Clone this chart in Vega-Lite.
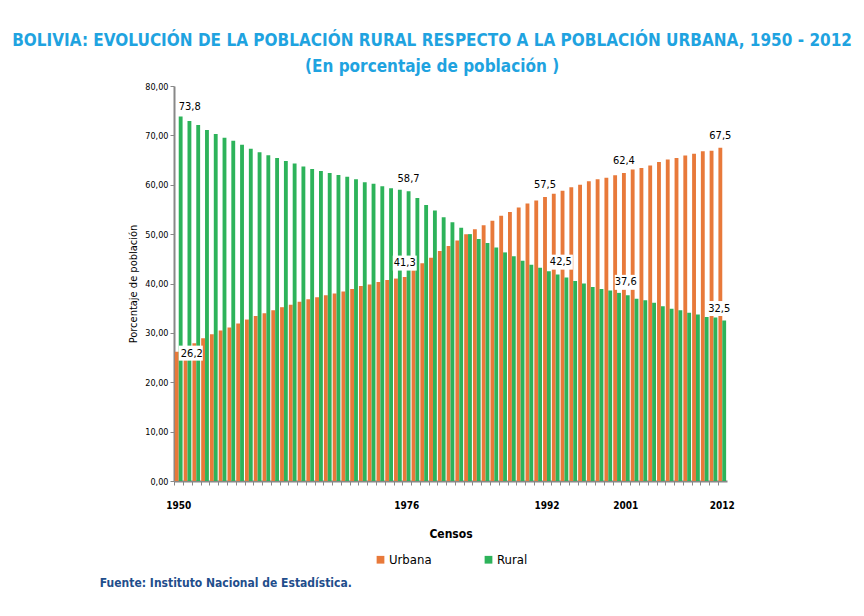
{
"$schema": "https://vega.github.io/schema/vega-lite/v6.json",
"background": "white",
"padding": {"left": 12, "top": 32, "right": 5, "bottom": 5},
"config": {
 "view": {"stroke": null},
 "locale": {"number": {"decimal": ",", "thousands": ".", "grouping": [3], "currency": ["", ""]}},
 "font": "DejaVu Sans Condensed, sans-serif",
 "legend": {"layout": {"bottom": {"anchor": "middle"}}}
},
"title": {
 "text": "BOLIVIA: EVOLUCIÓN DE LA POBLACIÓN RURAL RESPECTO A LA POBLACIÓN URBANA, 1950 - 2012",
 "subtitle": "(En porcentaje de población )",
 "font": "DejaVu Sans Condensed, sans-serif",
 "fontSize": 17, "fontWeight": "bold", "color": "#1FA3E0",
 "subtitleFont": "DejaVu Sans Condensed, sans-serif",
 "subtitleFontSize": 17, "subtitleFontWeight": "bold", "subtitleColor": "#1FA3E0",
 "subtitlePadding": 9, "anchor": "middle", "offset": 6, "dx": 15
},
"datasets": {"d": [
{"year":1950,"serie":"Urbana","value":26.2},{"year":1950,"serie":"Rural","value":73.8},
{"year":1951,"serie":"Urbana","value":27.1},{"year":1951,"serie":"Rural","value":72.9},
{"year":1952,"serie":"Urbana","value":27.9},{"year":1952,"serie":"Rural","value":72.1},
{"year":1953,"serie":"Urbana","value":28.9},{"year":1953,"serie":"Rural","value":71.1},
{"year":1954,"serie":"Urbana","value":29.7},{"year":1954,"serie":"Rural","value":70.3},
{"year":1955,"serie":"Urbana","value":30.5},{"year":1955,"serie":"Rural","value":69.5},
{"year":1956,"serie":"Urbana","value":31.1},{"year":1956,"serie":"Rural","value":68.9},
{"year":1957,"serie":"Urbana","value":31.9},{"year":1957,"serie":"Rural","value":68.1},
{"year":1958,"serie":"Urbana","value":32.7},{"year":1958,"serie":"Rural","value":67.3},
{"year":1959,"serie":"Urbana","value":33.4},{"year":1959,"serie":"Rural","value":66.6},
{"year":1960,"serie":"Urbana","value":34.0},{"year":1960,"serie":"Rural","value":66.0},
{"year":1961,"serie":"Urbana","value":34.6},{"year":1961,"serie":"Rural","value":65.4},
{"year":1962,"serie":"Urbana","value":35.2},{"year":1962,"serie":"Rural","value":64.8},
{"year":1963,"serie":"Urbana","value":35.7},{"year":1963,"serie":"Rural","value":64.3},
{"year":1964,"serie":"Urbana","value":36.3},{"year":1964,"serie":"Rural","value":63.7},
{"year":1965,"serie":"Urbana","value":36.8},{"year":1965,"serie":"Rural","value":63.2},
{"year":1966,"serie":"Urbana","value":37.2},{"year":1966,"serie":"Rural","value":62.8},
{"year":1967,"serie":"Urbana","value":37.6},{"year":1967,"serie":"Rural","value":62.4},
{"year":1968,"serie":"Urbana","value":38.0},{"year":1968,"serie":"Rural","value":62.0},
{"year":1969,"serie":"Urbana","value":38.4},{"year":1969,"serie":"Rural","value":61.6},
{"year":1970,"serie":"Urbana","value":38.9},{"year":1970,"serie":"Rural","value":61.1},
{"year":1971,"serie":"Urbana","value":39.5},{"year":1971,"serie":"Rural","value":60.5},
{"year":1972,"serie":"Urbana","value":39.8},{"year":1972,"serie":"Rural","value":60.2},
{"year":1973,"serie":"Urbana","value":40.3},{"year":1973,"serie":"Rural","value":59.7},
{"year":1974,"serie":"Urbana","value":40.7},{"year":1974,"serie":"Rural","value":59.3},
{"year":1975,"serie":"Urbana","value":41.0},{"year":1975,"serie":"Rural","value":59.0},
{"year":1976,"serie":"Urbana","value":41.3},{"year":1976,"serie":"Rural","value":58.7},
{"year":1977,"serie":"Urbana","value":42.7},{"year":1977,"serie":"Rural","value":57.3},
{"year":1978,"serie":"Urbana","value":44.1},{"year":1978,"serie":"Rural","value":55.9},
{"year":1979,"serie":"Urbana","value":45.2},{"year":1979,"serie":"Rural","value":54.8},
{"year":1980,"serie":"Urbana","value":46.6},{"year":1980,"serie":"Rural","value":53.4},
{"year":1981,"serie":"Urbana","value":47.6},{"year":1981,"serie":"Rural","value":52.4},
{"year":1982,"serie":"Urbana","value":48.7},{"year":1982,"serie":"Rural","value":51.3},
{"year":1983,"serie":"Urbana","value":50.0},{"year":1983,"serie":"Rural","value":50.0},
{"year":1984,"serie":"Urbana","value":51.0},{"year":1984,"serie":"Rural","value":49.0},
{"year":1985,"serie":"Urbana","value":51.8},{"year":1985,"serie":"Rural","value":48.2},
{"year":1986,"serie":"Urbana","value":52.7},{"year":1986,"serie":"Rural","value":47.3},
{"year":1987,"serie":"Urbana","value":53.7},{"year":1987,"serie":"Rural","value":46.3},
{"year":1988,"serie":"Urbana","value":54.5},{"year":1988,"serie":"Rural","value":45.5},
{"year":1989,"serie":"Urbana","value":55.4},{"year":1989,"serie":"Rural","value":44.6},
{"year":1990,"serie":"Urbana","value":56.2},{"year":1990,"serie":"Rural","value":43.8},
{"year":1991,"serie":"Urbana","value":56.8},{"year":1991,"serie":"Rural","value":43.2},
{"year":1992,"serie":"Urbana","value":57.5},{"year":1992,"serie":"Rural","value":42.5},
{"year":1993,"serie":"Urbana","value":58.2},{"year":1993,"serie":"Rural","value":41.8},
{"year":1994,"serie":"Urbana","value":58.8},{"year":1994,"serie":"Rural","value":41.2},
{"year":1995,"serie":"Urbana","value":59.5},{"year":1995,"serie":"Rural","value":40.5},
{"year":1996,"serie":"Urbana","value":60.0},{"year":1996,"serie":"Rural","value":40.0},
{"year":1997,"serie":"Urbana","value":60.7},{"year":1997,"serie":"Rural","value":39.3},
{"year":1998,"serie":"Urbana","value":61.1},{"year":1998,"serie":"Rural","value":38.9},
{"year":1999,"serie":"Urbana","value":61.4},{"year":1999,"serie":"Rural","value":38.6},
{"year":2000,"serie":"Urbana","value":61.9},{"year":2000,"serie":"Rural","value":38.1},
{"year":2001,"serie":"Urbana","value":62.4},{"year":2001,"serie":"Rural","value":37.6},
{"year":2002,"serie":"Urbana","value":63.1},{"year":2002,"serie":"Rural","value":36.9},
{"year":2003,"serie":"Urbana","value":63.4},{"year":2003,"serie":"Rural","value":36.6},
{"year":2004,"serie":"Urbana","value":63.9},{"year":2004,"serie":"Rural","value":36.1},
{"year":2005,"serie":"Urbana","value":64.6},{"year":2005,"serie":"Rural","value":35.4},
{"year":2006,"serie":"Urbana","value":65.1},{"year":2006,"serie":"Rural","value":34.9},
{"year":2007,"serie":"Urbana","value":65.4},{"year":2007,"serie":"Rural","value":34.6},
{"year":2008,"serie":"Urbana","value":65.9},{"year":2008,"serie":"Rural","value":34.1},
{"year":2009,"serie":"Urbana","value":66.3},{"year":2009,"serie":"Rural","value":33.7},
{"year":2010,"serie":"Urbana","value":66.8},{"year":2010,"serie":"Rural","value":33.2},
{"year":2011,"serie":"Urbana","value":66.9},{"year":2011,"serie":"Rural","value":33.1},
{"year":2012,"serie":"Urbana","value":67.5},{"year":2012,"serie":"Rural","value":32.5}
]},
"resolve": {"legend": {"color": "independent"}},
"vconcat": [{
 "width": 553,
 "height": 395,
 "title": {"text": "Fuente: Instituto Nacional de Estadística.", "orient": "bottom", "anchor": "start", "frame": "bounds",
   "font": "DejaVu Sans Condensed, sans-serif", "fontSize": 12, "fontWeight": "bold", "color": "#1F4E8C", "offset": 11, "dx": -28},
 "data": {"name": "d"},
 "encoding": {
  "x": {"field": "year", "type": "ordinal",
        "scale": {"paddingInner": 0.12, "paddingOuter": 0.1},
        "axis": {"title": "Censos", "titleFontSize": 12, "titleFontWeight": "bold", "titleColor": "#000", "titlePadding": 18,
                 "labelAngle": 0, "labelFontSize": 10, "labelFontWeight": "bold", "labelColor": "#000", "labelPadding": 15,
                 "labelExpr": "indexof([1950,1976,1992,2001,2012], datum.value) >= 0 ? datum.value : ''",
                 "labelOverlap": false, "tickSize": 4, "tickColor": "#888", "domainColor": "#888", "domainWidth": 2, "bandPosition": 0}},
  "xOffset": {"field": "serie", "type": "nominal", "sort": ["Urbana", "Rural"], "scale": {"paddingInner": 0, "paddingOuter": 0}},
  "y": {"field": "value", "type": "quantitative",
        "scale": {"domain": [0, 80], "nice": false},
        "axis": {"values": [0,10,20,30,40,50,60,70,80], "format": ".2f", "title": "Porcentaje de población",
                 "titleFontSize": 11, "titleFontWeight": "normal", "titleColor": "#000", "titlePadding": 6,
                 "labelFontSize": 9, "labelColor": "#000", "grid": false, "tickSize": 4, "tickColor": "#888",
                 "domainColor": "#888", "domainWidth": 2}}
 },
 "layer": [
  {"mark": {"type": "bar"},
   "encoding": {"color": {"field": "serie", "type": "nominal", "sort": ["Urbana", "Rural"],
      "scale": {"domain": ["Urbana", "Rural"], "range": ["#E8793A", "#2DB35A"]},
      "legend": {"orient": "bottom", "direction": "horizontal", "title": null, "symbolType": "square", "symbolSize": 60,
                 "labelFontSize": 13, "labelColor": "#000", "columnPadding": 50, "offset": 14, "labelOffset": 2}}}},
  {"transform": [{"filter": "datum.year == 1950 && datum.serie == 'Rural'"}],
   "mark": {"type": "text", "fontSize": 11, "dx": 9, "dy": -7, "baseline": "alphabetic"},
   "encoding": {"text": {"field": "value", "format": ".1f"}}},
  {"transform": [{"filter": "(datum.year == 1976 && datum.serie == 'Rural') || (datum.serie == 'Urbana' && (datum.year == 1992 || datum.year == 2001 || datum.year == 2012))"}],
   "mark": {"type": "text", "fontSize": 11, "dy": -9, "baseline": "alphabetic"},
   "encoding": {"text": {"field": "value", "format": ".1f"}}},
  {"transform": [{"filter": "datum.year == 1950 && datum.serie == 'Urbana'"}],
   "mark": {"type": "point", "filled": true, "color": "white", "opacity": 1, "size": 100, "shape": "M0.4,-1.2H5.2V1.8H0.4Z"}},
  {"transform": [{"filter": "datum.year == 1950 && datum.serie == 'Urbana'"}],
   "mark": {"type": "text", "fontSize": 11, "dx": 15, "dy": 2, "baseline": "middle"},
   "encoding": {"text": {"field": "value", "format": ".1f"}}},
  {"transform": [{"filter": "datum.year == 1976 && datum.serie == 'Urbana'"}],
   "mark": {"type": "point", "filled": true, "color": "white", "opacity": 1, "size": 100, "shape": "M-2.4,-4.3H2.4V-1.3H-2.4Z"}},
  {"transform": [{"filter": "datum.year == 1976 && datum.serie == 'Urbana'"}],
   "mark": {"type": "text", "fontSize": 11, "dy": -14, "baseline": "middle"},
   "encoding": {"text": {"field": "value", "format": ".1f"}}},
  {"transform": [{"filter": "datum.year == 1992 && datum.serie == 'Rural'"}],
   "mark": {"type": "point", "filled": true, "color": "white", "opacity": 1, "size": 100, "shape": "M0,-3.3H4.8V-0.3H0Z"}},
  {"transform": [{"filter": "datum.year == 1992 && datum.serie == 'Rural'"}],
   "mark": {"type": "text", "fontSize": 11, "dx": 12, "dy": -9, "baseline": "middle"},
   "encoding": {"text": {"field": "value", "format": ".1f"}}},
  {"transform": [{"filter": "datum.year == 2001 && datum.serie == 'Rural'"}],
   "mark": {"type": "point", "filled": true, "color": "white", "opacity": 1, "size": 100, "shape": "M-2.6,-4.1H2.2V-1.1H-2.6Z"}},
  {"transform": [{"filter": "datum.year == 2001 && datum.serie == 'Rural'"}],
   "mark": {"type": "text", "fontSize": 11, "dx": -2, "dy": -13, "baseline": "middle"},
   "encoding": {"text": {"field": "value", "format": ".1f"}}},
  {"transform": [{"filter": "datum.year == 2012 && datum.serie == 'Rural'"}],
   "mark": {"type": "point", "filled": true, "color": "white", "opacity": 1, "size": 100, "shape": "M-3.4,-3.9H1.4V-0.9H-3.4Z"}},
  {"transform": [{"filter": "datum.year == 2012 && datum.serie == 'Rural'"}],
   "mark": {"type": "text", "fontSize": 11, "dx": -5, "dy": -12, "baseline": "middle"},
   "encoding": {"text": {"field": "value", "format": ".1f"}}}
 ]
}]
}
